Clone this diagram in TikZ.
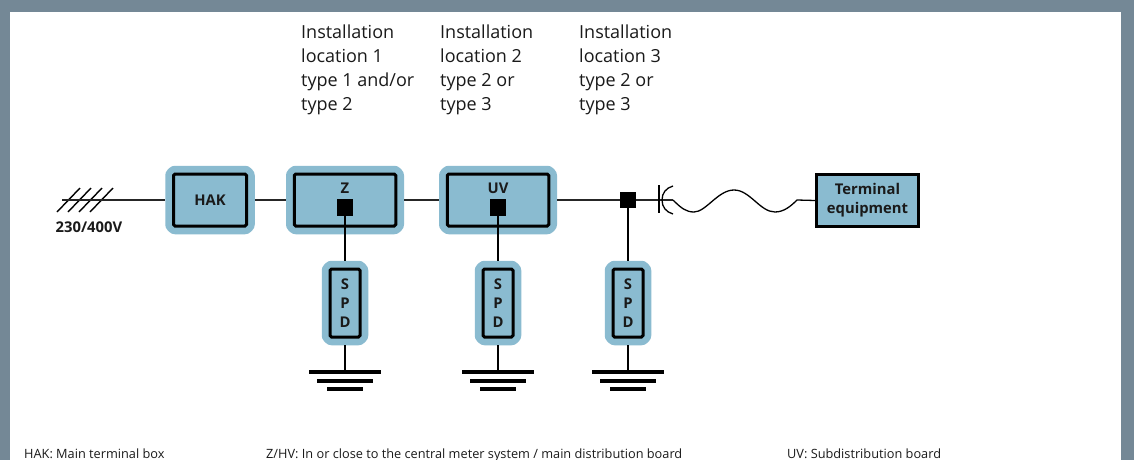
\documentclass[tikz,border=0pt]{standalone}
\usepackage{xcolor}
\usepackage{fontspec}
\setmainfont{Open Sans}
\usetikzlibrary{positioning,calc}
\definecolor{pageGrey}{HTML}{748896}
\definecolor{boxBlue}{HTML}{8ABBD0}
\definecolor{inkDark}{HTML}{1A1A1A}
\tikzset{
  boxfont/.style={font=\bfseries\fontsize{14.8}{19}\selectfont,text=inkDark},
  bandbox/.style={draw=black,line width=3pt,fill=boxBlue,rounded corners=1.5pt,outer sep=8.25pt,
    inner sep=0pt,boxfont,align=center,
    preaction={draw=boxBlue,line width=16.5pt,line join=round}},
  spdbox/.style={bandbox,minimum width=30pt,minimum height=68pt},
  mainbox/.style={bandbox,minimum height=52pt},
  junction/.style={fill=black,minimum size=16.5pt,inner sep=0pt},
  wire/.style={line width=1.5pt,black!85},
  dropwire/.style={line width=2pt,black},
  gndbar/.style={line width=3.6pt,black},
  loctext/.style={anchor=north west,inner sep=0pt,align=left,text=inkDark,
    font=\fontsize{18}{24}\selectfont},
  foottext/.style={anchor=base west,inner sep=0pt,text=inkDark,font=\fontsize{12.75}{14}\selectfont}
}
\begin{document}
\begin{tikzpicture}[x=1pt,y=-1pt]
  \useasboundingbox (0,0) rectangle (1134,460);
  \fill[pageGrey] (0,0) rectangle (1134,460);
  \fill[white] (10,12) rectangle (1121,460);

  % location headings
  \node[loctext] (loca) at (301,25) {Installation\\location 1\\type 1 and/or\\type 2};
  \node[loctext] (locb) at (440,25) {Installation\\location 2\\type 2 or\\type 3};
  \node[loctext] (locc) at (579,25) {Installation\\location 3\\type 2 or\\type 3};

  % boxes on the main line
  \node[mainbox,minimum width=73pt] (hak) at (210,200) {HAK};
  \node[mainbox,minimum width=101.5pt] (z) at (345,200) {};
  \node[mainbox,minimum width=101.5pt] (uv) at (498,200) {};
  \node[boxfont] (zlabel) at (345,188) {Z};
  \node[boxfont] (uvlabel) at (498,188) {UV};
  \node[junction] (zjunc) at (345,207.5) {};
  \node[junction] (uvjunc) at (498,207.5) {};
  \node[junction] (outjunc) at (628,200) {};
  \node[draw=black,line width=3pt,fill=boxBlue,minimum width=102pt,minimum height=52.5pt,inner sep=0pt,
    boxfont,align=center] (term) at (867.5,200.5) {Terminal\\equipment};

  % feed with its four conductor ticks
  \coordinate (feed) at (62,200);
  \foreach \x in {57,68,79,90}{
    \draw[line width=1.4pt,black] (\x,212) -- (\x+23,188);
  }
  \node[anchor=west,inner sep=0pt,boxfont] (volt) at (55.5,227) {230/400V};

  \draw[wire] (feed) -- (hak.west);
  \draw[wire] (hak.east) -- (z.west);
  \draw[wire] (z.east) -- (uv.west);
  \draw[wire] (uv.east) -- (outjunc);

  % arresters and earth bars
  \foreach \n/\x/\src in {a/345/zjunc,b/498/uvjunc,c/628/outjunc}{
    \node[spdbox] (spd\n) at (\x,303) {S\\P\\D};
    \coordinate (gnd\n) at (\x,372);
    \draw[dropwire] (\src) -- (spd\n.north);
    \draw[dropwire] (spd\n.south) -- (gnd\n);
    \draw[gndbar] ($(gnd\n)+(-36,0)$) -- ($(gnd\n)+(36,0)$);
    \draw[gndbar] ($(gnd\n)+(-28,9)$) -- ($(gnd\n)+(28,9)$);
    \draw[gndbar] ($(gnd\n)+(-18,17)$) -- ($(gnd\n)+(18,17)$);
  }

  % plug, socket and the cable to the equipment
  \coordinate (plug) at (673,200);
  \draw[wire] (outjunc) -- (plug);
  \draw[line width=1.3pt,black] (659,185) -- (659,213);
  \draw[line width=1.3pt,black] (673,186) .. controls (666,188) and (662,193) .. (662,200)
    .. controls (662,207) and (666,212) .. (673,214);
  \draw[line width=1.3pt,black] (plug) .. controls (681,208) and (686,212) .. (694,212)
    .. controls (706,212) and (718,190) .. (734,190)
    .. controls (750,190) and (760,212) .. (775,212)
    .. controls (784,212) and (791,206) .. (797,200) -- (term.west);

  % key along the bottom edge
  \node[foottext] (keyhak) at (24,458) {HAK: Main terminal box};
  \node[foottext] (keyz) at (266,458) {Z/HV: In or close to the central meter system / main distribution board};
  \node[foottext] (keyuv) at (787,458) {UV: Subdistribution board};
\end{tikzpicture}
\end{document}
